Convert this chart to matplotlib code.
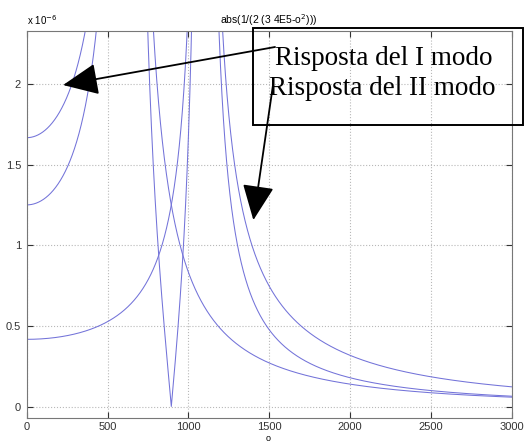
import numpy as np
import matplotlib.pyplot as plt

# modal parameters (omega^2 of each mode, modal factor)
omega_sq = [4e5, 3 * 4e5]
modal_k = [2, 2]
o_range = [0, 3000]
y_ticks = [0, 0.5e-6, 1e-6, 1.5e-6, 2e-6]
y_tick_labels = ['0', '0.5', '1', '1.5', '2']
x_ticks = [0, 500, 1000, 1500, 2000, 2500, 3000]

# frequency axis
o = np.linspace(o_range[0], o_range[1], 12001)

# responses of each mode and their sum
r1 = 1 / (modal_k[0] * (omega_sq[0] - o**2))
r2 = 1 / (modal_k[1] * (omega_sq[1] - o**2))
tot = r1 + r2

fig = plt.figure(figsize=(5.31, 4.43), dpi=100)
ax = fig.add_axes([26.7/531, 25/443, 485/531, 387/443])

col = '#7373d9'
ax.plot(o, np.abs(tot), color=col, lw=0.75)
ax.plot(o, np.abs(r1), color=col, lw=0.75)
ax.plot(o, np.abs(r2), color=col, lw=0.75)

ax.set_xlim(o_range)
ax.set_ylim(-0.071e-6, 2.328e-6)
ax.set_xticks(x_ticks)
ax.set_yticks(y_ticks)
ax.set_yticklabels(y_tick_labels)
ax.grid(True, linestyle=':', color='#b8b8b8', lw=0.8)
ax.tick_params(direction='in', top=True, right=True, length=4,
               labelsize=8, colors='#333333', pad=4)
ax.tick_params(axis='x', pad=3)
for lab in ax.get_xticklabels() + ax.get_yticklabels():
    lab.set_family('Liberation Sans')
for s in ax.spines.values():
    s.set_color('#777777')
    s.set_linewidth(0.8)

ax.set_title('abs(1/(2 (3 4E5-o$^2$)))', fontsize=7.5,
             family='Liberation Sans', pad=5)
fig.text(27/531, 1 - 20/443, 'x 10$^{-6}$', fontsize=7,
         family='Liberation Sans', va='center')
# x label sits at the very bottom edge
fig.text(268/531, 0, 'o', fontsize=6.5, family='Liberation Sans',
         ha='center', va='bottom')

# legend box with arrows
box = plt.Rectangle((253/531, 1 - 125/443), 270/531, 97/443,
                    transform=fig.transFigure, fill=False,
                    edgecolor='black', lw=1.4)
fig.patches.append(box)
fig.text(275/531, 1 - 65/443, 'Risposta del I modo', fontsize=19.5,
         family='Liberation Serif', va='baseline')
fig.text(269/531, 1 - 95/443, 'Risposta del II modo', fontsize=19.5,
         family='Liberation Serif', va='baseline')

ax.annotate('', xy=(225, 1.993e-6), xycoords='data',
            xytext=(275/531, 1 - 47/443), textcoords='figure fraction',
            arrowprops=dict(arrowstyle='-|>,head_length=1.0,head_width=0.45',
                            mutation_scale=22, color='black', lw=1.3,
                            shrinkA=0, shrinkB=0),
            annotation_clip=False)
ax.annotate('', xy=(1402, 1.156e-6), xycoords='data',
            xytext=(273/531, 1 - 85/443), textcoords='figure fraction',
            arrowprops=dict(arrowstyle='-|>,head_length=1.0,head_width=0.45',
                            mutation_scale=22, color='black', lw=1.3,
                            shrinkA=0, shrinkB=0),
            annotation_clip=False)

fig.savefig('out.png', dpi=100)
